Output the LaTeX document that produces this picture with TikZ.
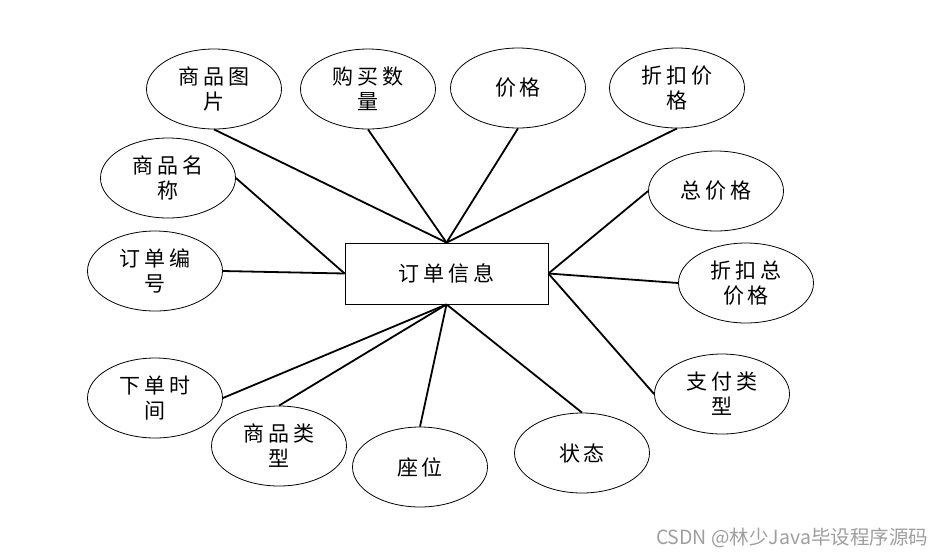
\documentclass[tikz,border=0pt]{standalone}
\usepackage{fontspec}
\setmainfont[LetterSpace=18]{Noto Sans CJK SC}
\newfontfamily\wmfont{Noto Sans CJK SC}
\usetikzlibrary{shapes.geometric}
\tikzset{
  attr/.style={ellipse, draw, line width=0.8pt, minimum width=135pt, minimum height=80pt, inner sep=0pt, align=center, font=\fontsize{21}{25}\selectfont},
  ent/.style={rectangle, draw, line width=0.8pt, minimum width=203pt, minimum height=61pt, inner sep=0pt, font=\fontsize{21}{25}\selectfont},
  link/.style={line width=1.8pt}
}
\begin{document}
\begin{tikzpicture}[x=1pt,y=-1pt]
\useasboundingbox (0,0) rectangle (941,558);
\node[ent] (e) at (446.5,273.5) {订单信息};
\node[attr] (a1) at (214,89) {商品图\\片};
\node[attr] (a2) at (368,89) {购买数\\量};
\node[attr] (a3) at (518,88) {价格};
\node[attr] (a4) at (677,88) {折扣价\\格};
\node[attr] (a5) at (168,178) {商品名\\称};
\node[attr] (a6) at (155,271) {订单编\\号};
\node[attr] (a7) at (716,191) {总价格};
\node[attr] (a8) at (746,283) {折扣总\\价格};
\node[attr] (a9) at (722,394) {支付类\\型};
\node[attr] (a10) at (155,398) {下单时\\间};
\node[attr] (a11) at (279,446) {商品类\\型};
\node[attr] (a12) at (420,467) {座位};
\node[attr] (a13) at (582,453) {状态};
\draw[link] (a1.south) -- (e.north);
\draw[link] (a2.south) -- (e.north);
\draw[link] (a3.south) -- (e.north);
\draw[link] (a4.south) -- (e.north);
\draw[link] (a5.east) -- (e.west);
\draw[link] (a6.east) -- (e.west);
\draw[link] (a7.west) -- (e.east);
\draw[link] (a8.west) -- (e.east);
\draw[link] (a9.west) -- (e.east);
\draw[link] (a10.east) -- (e.south);
\draw[link] (a11.north) -- (e.south);
\draw[link] (a12.north) -- (e.south);
\draw[link] (a13.north) -- (e.south);
\node[font=\wmfont\fontsize{19.5}{21}\selectfont, text=black!38, inner sep=0pt] (wm) at (792,538) {CSDN @林少Java毕设程序源码};
\end{tikzpicture}
\end{document}
